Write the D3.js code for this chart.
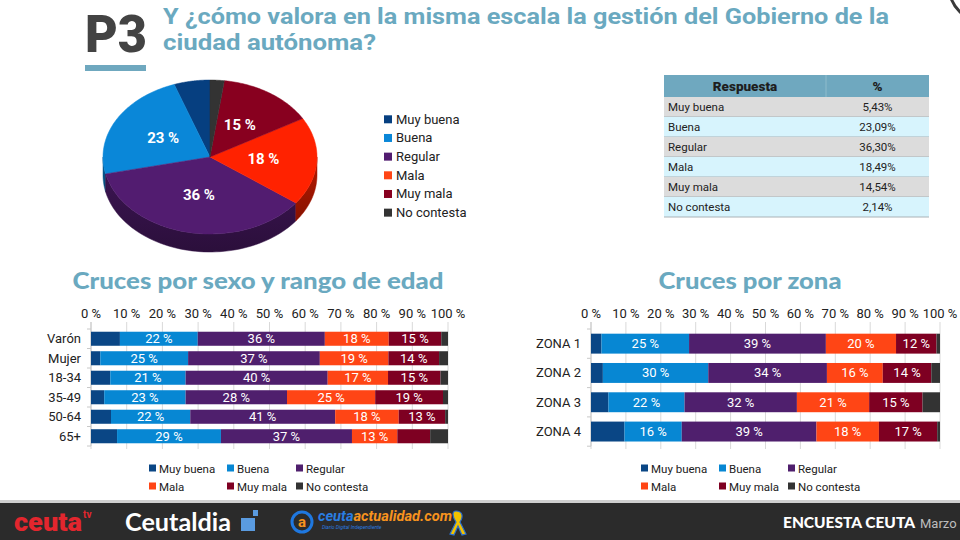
<!DOCTYPE html>
<html><head><meta charset="utf-8">
<script src="https://cdn.jsdelivr.net/npm/d3@7"></script>
<style>body{margin:0;background:#fff}svg{display:block}</style>
</head><body>
<svg id="c" width="960" height="540"></svg>
<script>
// ---------- DATA ----------
const responses = ["Muy buena","Buena","Regular","Mala","Muy mala","No contesta"];
const overallPct = [5.43,23.09,36.30,18.49,14.54,2.14];
const overallLabels = ["5,43%","23,09%","36,30%","18,49%","14,54%","2,14%"];

const groupCategories = ["Varón","Mujer","18-34","35-49","50-64","65+"];
const groupMuyBuena   = [8.1,2.6,5.4,3.7,5.6,7.3];
const groupBuena      = [21.8,24.6,21.1,22.8,22.2,29.1];
const groupRegular    = [35.6,36.9,39.8,28.4,40.6,36.7];
const groupMala       = [17.9,19.2,16.9,24.7,17.8,12.7];
const groupMuyMala    = [14.7,14.2,14.7,19.0,13.0,9.2];
const groupNoContesta = [1.9,2.5,2.1,1.4,0.8,5.0];

const zoneCategories = ["ZONA 1","ZONA 2","ZONA 3","ZONA 4"];
const zoneMuyBuena   = [3.0,3.4,5.0,9.6];
const zoneBuena      = [25.1,30.2,21.8,16.4];
const zoneRegular    = [39.2,34.0,32.2,38.6];
const zoneMala       = [20.1,16.0,20.7,17.9];
const zoneMuyMala    = [11.6,13.9,15.3,16.7];
const zoneNoContesta = [1.0,2.5,5.0,0.8];

const axisTicks = [0,10,20,30,40,50,60,70,80,90,100];

// ---------- STYLE ----------
const barColors = ["#0a4685","#0787d3","#4f1f6d","#ff4515","#7e0022","#333333"];
const pieColors = ["#063f80","#0a87d8","#521c70","#ff2200","#88001f","#333333"];
const teal = "#6aa9c0";
const FONT = "Roboto, 'Noto Sans', sans-serif";

const svg = d3.select("#c");

// ---------- HEADER ----------
svg.append("text").attr("x",85).attr("y",52).text("P3")
  .attr("font-family","Roboto, sans-serif").attr("font-weight",900).attr("font-size",52)
  .attr("fill","#434343").attr("textLength",62).attr("lengthAdjust","spacingAndGlyphs");
svg.append("rect").attr("x",85).attr("y",65).attr("width",61).attr("height",6).attr("fill","#6fa8bf");
svg.append("text").attr("x",163).attr("y",24).text("Y ¿cómo valora en la misma escala la gestión del Gobierno de la")
  .attr("font-family","Roboto, sans-serif").attr("font-weight",700).attr("font-size",22)
  .attr("fill",teal).attr("textLength",726).attr("lengthAdjust","spacingAndGlyphs");
svg.append("text").attr("x",163).attr("y",50).text("ciudad autónoma?")
  .attr("font-family","Roboto, sans-serif").attr("font-weight",700).attr("font-size",22)
  .attr("fill",teal).attr("textLength",213).attr("lengthAdjust","spacingAndGlyphs");
svg.append("circle").attr("cx",985).attr("cy",-14).attr("r",36).attr("fill","none").attr("stroke","#3a3a3a").attr("stroke-width",3);

// ---------- 3D PIE ----------
const cx=210, cy=157, rx=107, ry=77, depth=18;
const total = d3.sum(overallPct);
const pt=(phi,dy=0)=>[cx+rx*Math.sin(phi*Math.PI/180), cy-ry*Math.cos(phi*Math.PI/180)+dy];
const arcPts=(a,b,dy)=>d3.range(61).map(k=>pt(a+(b-a)*k/60,dy));
let cum=0;
const slices = overallPct.map((v,i)=>{const end=360-cum/total*360; cum+=v; const start=360-cum/total*360; return {i,v,start,end};});
const line = d3.line();
const defs = svg.append("defs");
const pieG = svg.append("g");
slices.forEach(s=>{
  const a=Math.max(s.start,90), b=Math.min(s.end,270);
  if(b>a){
    const gid="wall"+s.i;
    const base=d3.color(pieColors[s.i]);
    const gr=defs.append("linearGradient").attr("id",gid).attr("x1",0).attr("y1",0).attr("x2",0).attr("y2",1);
    gr.append("stop").attr("offset","0%").attr("stop-color",base.darker(0.9));
    gr.append("stop").attr("offset","100%").attr("stop-color",base.darker(1.8));
    const p = arcPts(a,b,0).concat(arcPts(b,a,depth));
    pieG.append("path").attr("d",line(p)+"Z").attr("fill",`url(#${gid})`)
      .attr("stroke",base.darker(1.3)).attr("stroke-width",0.5);
  }
});
slices.forEach(s=>{
  const p=[[cx,cy]].concat(arcPts(s.start,s.end,0));
  pieG.append("path").attr("d",line(p)+"Z").attr("fill",pieColors[s.i]).attr("stroke",pieColors[s.i]).attr("stroke-width",0.5);
});
slices.filter(s=>s.v>=10).forEach(s=>{
  const m=(s.start+s.end)/2;
  const x=cx+0.5*rx*Math.sin(m*Math.PI/180), y=cy-0.5*ry*Math.cos(m*Math.PI/180);
  pieG.append("text").attr("x",x).attr("y",y+5).attr("text-anchor","middle").text(Math.round(s.v)+" %")
    .attr("font-family",FONT).attr("font-weight",700).attr("font-size",15).attr("fill","#fff");
});
// pie legend
const pl = svg.append("g");
responses.forEach((r,i)=>{
  const y=119.3+i*18.67;
  pl.append("rect").attr("x",384).attr("y",y-4).attr("width",8).attr("height",8).attr("fill",i===3?"#ff4515":pieColors[i]);
  pl.append("text").attr("x",396).attr("y",y+4.5).text(r).attr("font-family",FONT).attr("font-size",13).attr("fill","#222");
});

// ---------- TABLE ----------
const tx0=664, tx1=826, tx2=929, ty0=75, th=22, rh=20;
const tg = svg.append("g");
tg.append("rect").attr("x",tx0).attr("y",ty0).attr("width",tx2-tx0).attr("height",th).attr("fill","#6fa8bf");
tg.append("line").attr("x1",tx1).attr("x2",tx1).attr("y1",ty0).attr("y2",ty0+th).attr("stroke","#8fbccc");
tg.append("text").attr("x",(tx0+tx1)/2).attr("y",ty0+15.5).attr("text-anchor","middle").text("Respuesta")
  .attr("font-family",FONT).attr("font-weight",900).attr("font-size",13.5).attr("fill","#1e1e1e");
tg.append("text").attr("x",(tx1+tx2)/2).attr("y",ty0+15.5).attr("text-anchor","middle").text("%")
  .attr("font-family",FONT).attr("font-weight",900).attr("font-size",13.5).attr("fill","#1e1e1e");
responses.forEach((r,i)=>{
  const y=ty0+th+i*rh;
  tg.append("rect").attr("x",tx0).attr("y",y).attr("width",tx2-tx0).attr("height",rh).attr("fill",i%2?"#d7f4fd":"#dcdcdc");
  tg.append("line").attr("x1",tx0).attr("x2",tx2).attr("y1",y+rh).attr("y2",y+rh).attr("stroke","#a9b2b6").attr("stroke-width",1);
  tg.append("text").attr("x",tx0+4).attr("y",y+14).text(r).attr("font-family",FONT).attr("font-size",11.5).attr("fill","#222");
  tg.append("text").attr("x",(tx1+tx2)/2).attr("y",y+14).attr("text-anchor","middle").text(overallLabels[i])
    .attr("font-family",FONT).attr("font-size",11.5).attr("fill","#222");
});

// ---------- SECTION TITLES ----------
svg.append("text").attr("x",258).attr("y",289).attr("text-anchor","middle").text("Cruces por sexo y rango de edad")
  .attr("font-family","Lato, sans-serif").attr("font-weight",900).attr("font-size",22).attr("fill",teal)
  .attr("textLength",371).attr("lengthAdjust","spacingAndGlyphs");
svg.append("text").attr("x",750).attr("y",289).attr("text-anchor","middle").text("Cruces por zona")
  .attr("font-family","Lato, sans-serif").attr("font-weight",900).attr("font-size",22).attr("fill",teal)
  .attr("textLength",183).attr("lengthAdjust","spacingAndGlyphs");

// ---------- STACKED BARS ----------
function stackedBar(cats, series, xr, yr, pad, labelX, legendX){
  const rows = cats.map((c,j)=>{const o={cat:c}; responses.forEach((r,i)=>o[r]=series[i][j]); return o;});
  const stack = d3.stack().keys(responses)(rows);
  const x = d3.scaleLinear().domain([0,100]).range(xr);
  const y = d3.scaleBand().domain(cats).range(yr).paddingInner(pad).paddingOuter(pad/2);
  const g = svg.append("g");
  g.selectAll(".gl").data(axisTicks).join("line").attr("x1",d=>x(d)).attr("x2",d=>x(d))
    .attr("y1",322).attr("y2",449).attr("stroke","#d9d9d9").attr("stroke-width",1);
  g.selectAll(".tl").data(axisTicks).join("text").attr("x",d=>x(d)).attr("y",318).attr("text-anchor","middle")
    .text(d=>d+" %").attr("font-family",FONT).attr("font-size",13).attr("fill","#222");
  g.append("line").attr("x1",x(0)).attr("x2",x(0)).attr("y1",322).attr("y2",yr[1]).attr("stroke","#c8c8c8");
  const step=y.step();
  d3.range(cats.length+1).forEach(k=>{
    const yy=yr[0]+k*step;
    g.append("line").attr("x1",x(0)-4).attr("x2",x(0)).attr("y1",yy).attr("y2",yy).attr("stroke","#c8c8c8");
  });
  stack.forEach((layer,i)=>{
    layer.forEach(d=>{
      g.append("rect").attr("x",x(d[0])).attr("y",y(d.data.cat)).attr("width",Math.max(0,x(d[1])-x(d[0])))
        .attr("height",y.bandwidth()).attr("fill",barColors[i]);
      const v=d[1]-d[0];
      if(v>=10){
        g.append("text").attr("x",(x(d[0])+x(d[1]))/2).attr("y",y(d.data.cat)+y.bandwidth()/2+4.5)
          .attr("text-anchor","middle").text(Math.round(v)+" %")
          .attr("font-family",FONT).attr("font-size",13).attr("fill","#fff");
      }
    });
  });
  g.selectAll(".cl").data(cats).join("text").attr("x",labelX).attr("y",d=>y(d)+y.bandwidth()/2+4.5)
    .attr("text-anchor","end").text(d=>d).attr("font-family",FONT).attr("font-size",13).attr("fill","#222");
  const lx=[legendX, legendX+78, legendX+147];
  responses.forEach((r,i)=>{
    const col=i%3, row=Math.floor(i/3);
    const yy=468+row*18;
    g.append("rect").attr("x",lx[col]).attr("y",yy-3.5).attr("width",7).attr("height",7).attr("fill",barColors[i]);
    g.append("text").attr("x",lx[col]+10).attr("y",yy+4.5).text(r).attr("font-family",FONT).attr("font-size",11.5).attr("fill","#222");
  });
}
stackedBar(groupCategories,[groupMuyBuena,groupBuena,groupRegular,groupMala,groupMuyMala,groupNoContesta],
  [91,448],[329,446],0.28,81,149);
stackedBar(zoneCategories,[zoneMuyBuena,zoneBuena,zoneRegular,zoneMala,zoneMuyMala,zoneNoContesta],
  [591,940],[329,446.2],0.32,581,641);

// ---------- FOOTER ----------
const f = svg.append("g");
f.append("rect").attr("x",0).attr("y",500).attr("width",960).attr("height",3).attr("fill","#cfcfcf");
f.append("rect").attr("x",0).attr("y",503).attr("width",960).attr("height",37).attr("fill","#2b2b2b");
f.append("text").attr("x",14).attr("y",531).text("ceuta").attr("font-family","Roboto, sans-serif").attr("font-weight",900)
  .attr("font-size",25).attr("fill","#e3262e").attr("textLength",68).attr("lengthAdjust","spacingAndGlyphs");
f.append("text").attr("x",83).attr("y",518).text("tv").attr("font-family","Roboto, sans-serif").attr("font-weight",700)
  .attr("font-size",10).attr("fill","#e3262e");
f.append("text").attr("x",125).attr("y",531).text("Ceutaldia").attr("font-family","Lato, sans-serif").attr("font-weight",700)
  .attr("font-size",24).attr("fill","#fff").attr("textLength",106).attr("lengthAdjust","spacingAndGlyphs");
f.append("rect").attr("x",241).attr("y",518).attr("width",14).attr("height",13).attr("fill","#5a9be0");
f.append("rect").attr("x",253).attr("y",510).attr("width",5).attr("height",6).attr("fill","#5a9be0");
f.append("circle").attr("cx",302).attr("cy",522).attr("r",10).attr("fill","none").attr("stroke","#1f78e0").attr("stroke-width",3);
f.append("text").attr("x",302).attr("y",527).attr("text-anchor","middle").text("a").attr("font-family","Roboto, sans-serif")
  .attr("font-weight",700).attr("font-size",15).attr("fill","#f7931e");
f.append("text").attr("x",318).attr("y",521).attr("font-family","Roboto, sans-serif").attr("font-weight",700)
  .attr("font-style","italic").attr("font-size",14).attr("textLength",134).attr("lengthAdjust","spacingAndGlyphs")
  .call(t=>{t.append("tspan").attr("fill","#2a7de1").text("ceuta"); t.append("tspan").attr("fill","#f7931e").text("actualidad.com");});
f.append("text").attr("x",322).attr("y",529).text("Diario Digital Independiente").attr("font-family","Roboto, sans-serif")
  .attr("font-size",5).attr("fill","#2a7de1").attr("font-style","italic");
f.append("path").attr("d","M456,511 C462,511 464,516 460,522 L466,534 L462,535 L458,526 L454,535 L450,534 L456,522 C452,516 452,511 456,511Z")
  .attr("fill","#f2c200").attr("stroke","#2a6fd0").attr("stroke-width",1.2);
f.append("text").attr("x",783).attr("y",528).text("ENCUESTA CEUTA").attr("font-family","Lato, sans-serif").attr("font-weight",900)
  .attr("font-size",15).attr("fill","#fff").attr("textLength",132).attr("lengthAdjust","spacingAndGlyphs");
f.append("text").attr("x",920).attr("y",528).text("Marzo").attr("font-family",FONT).attr("font-size",13).attr("fill","#bdbdbd");
</script>
</body></html>
